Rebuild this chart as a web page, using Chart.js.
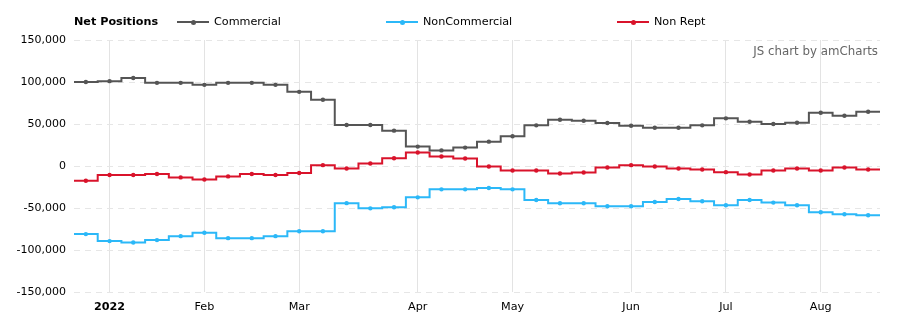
<!DOCTYPE html>
<html>
<head>
<meta charset="utf-8">
<script src="https://cdn.jsdelivr.net/npm/chart.js@4.4.1/dist/chart.umd.min.js"></script>
<style>
  html, body { margin: 0; padding: 0; background: #fff; }
  #wrap { position: relative; width: 897px; height: 326px; font-family: "DejaVu Sans", Verdana, sans-serif; }
  #chart { position: absolute; left: 0; top: 0; }
  .legend-title { position: absolute; left: 74px; top: 15px; font-size: 11.2px; font-weight: bold; color: #000; }
  .legend-item { position: absolute; top: 15px; font-size: 11.2px; color: #000; white-space: nowrap; }
  .legend-item .mark { position: absolute; left: -37px; top: 6px; width: 32px; height: 2px; }
  .legend-item .dot { position: absolute; left: 14px; top: -1.5px; width: 5px; height: 5px; border-radius: 50%; }
  .credit { position: absolute; right: 19px; top: 44px; font-size: 11.8px; color: #666; }
</style>
</head>
<body>
<div id="wrap">
  <canvas id="chart" width="897" height="326"></canvas>
  <div class="legend-title">Net Positions</div>
  <div id="legend"></div>
  <div class="credit">JS chart by amCharts</div>
</div>
<script>
const WEEKS = [
  "2021-12-28", "2022-01-04", "2022-01-11", "2022-01-18", "2022-01-25",
  "2022-02-01", "2022-02-08", "2022-02-15", "2022-02-22", "2022-03-01",
  "2022-03-08", "2022-03-15", "2022-03-22", "2022-03-29", "2022-04-05",
  "2022-04-12", "2022-04-19", "2022-04-26", "2022-05-03", "2022-05-10",
  "2022-05-17", "2022-05-24", "2022-05-31", "2022-06-07", "2022-06-14",
  "2022-06-21", "2022-06-28", "2022-07-05", "2022-07-12", "2022-07-19",
  "2022-07-26", "2022-08-02", "2022-08-09", "2022-08-16",
];

const COMMERCIAL = [
  100000, 101000, 104800, 99000, 99000, 96600, 99000, 99000, 96600, 88300,
  78800, 48800, 48800, 42100, 23100, 18600, 21900, 29000, 35400, 48400,
  55100, 53900, 51200, 48000, 45600, 45600, 48400, 56700, 52700, 50000,
  51500, 63400, 59800, 64600,
];

const NON_COMMERCIAL = [
  -81100, -89400, -91000, -88200, -83500, -79500, -85900, -85900, -83500, -77600,
  -77600, -44200, -50400, -49100, -37300, -27800, -27800, -26200, -27800, -40400,
  -44400, -44400, -48000, -48000, -42800, -39200, -42000, -46800, -40400, -43600,
  -46800, -55100, -57400, -58600,
];

const NON_REPT = [
  -17500, -10800, -10800, -9600, -13600, -16000, -12400, -9600, -10800, -8400,
  1000, -2900, 3000, 9300, 16000, 11300, 8900, -600, -5300, -5300,
  -8900, -7700, -1800, 1000, -600, -2900, -4100, -7300, -10100, -5300,
  -2900, -5300, -1800, -4100,
];

// label shown on the first report of each month
const MONTH_LABELS = {
  "2022-01-04": "2022",
  "2022-02-01": "Feb",
  "2022-03-01": "Mar",
  "2022-04-05": "Apr",
  "2022-05-03": "May",
  "2022-06-07": "Jun",
  "2022-07-05": "Jul",
  "2022-08-02": "Aug",
};

const SERIES = [
  { name: "Commercial", data: COMMERCIAL, color: "#555555", left: 214 },
  { name: "NonCommercial", data: NON_COMMERCIAL, color: "#2bb8f8", left: 423 },
  { name: "Non Rept", data: NON_REPT, color: "#d9132b", left: 654 },
];

function buildLegend() {
  const legend = document.getElementById("legend");
  SERIES.forEach((s) => {
    const item = document.createElement("div");
    item.className = "legend-item";
    item.style.left = `${s.left}px`;
    item.innerHTML = `<span class="mark" style="background:${s.color}"><span class="dot" style="background:${s.color}"></span></span>${s.name}`;
    legend.appendChild(item);
  });
}

// amCharts step lines run out to the plot edges; extend first/last step
const stepEdges = {
  id: "stepEdges",
  afterDatasetsDraw(chart) {
    const { ctx, chartArea } = chart;
    chart.data.datasets.forEach((ds, i) => {
      const pts = chart.getDatasetMeta(i).data;
      if (!pts.length) return;
      const first = pts[0];
      const last = pts[pts.length - 1];
      ctx.save();
      ctx.strokeStyle = ds.borderColor;
      ctx.lineWidth = ds.borderWidth;
      ctx.beginPath();
      ctx.moveTo(chartArea.left, first.y);
      ctx.lineTo(first.x, first.y);
      ctx.moveTo(last.x, last.y);
      ctx.lineTo(chartArea.right, last.y);
      ctx.stroke();
      ctx.restore();
    });
  },
};

function renderChart() {
  const ctx = document.getElementById("chart");
  new Chart(ctx, {
    type: "line",
    data: {
      labels: WEEKS,
      datasets: SERIES.map((s) => ({
        label: s.name,
        data: s.data,
        borderColor: s.color,
        backgroundColor: s.color,
        borderWidth: 2,
        stepped: "middle",
        pointRadius: 2.2,
        pointHoverRadius: 3,
        pointBorderWidth: 0,
        fill: false,
      })),
    },
    options: {
      responsive: false,
      animation: false,
      layout: { padding: { top: 40, right: 17, bottom: 0, left: 0 } },
      plugins: { legend: { display: false }, tooltip: { enabled: false } },
      scales: {
        x: {
          offset: true,
          grid: {
            offset: false,
            drawTicks: false,
            color: (c) => (MONTH_LABELS[WEEKS[c.index]] ? "#e3e3e3" : "rgba(0,0,0,0)"),
          },
          border: { display: false },
          ticks: {
            autoSkip: false,
            maxRotation: 0,
            padding: 8,
            color: "#000",
            font: (c) => ({
              family: "DejaVu Sans",
              size: 11.2,
              weight: MONTH_LABELS[WEEKS[c.index]] === "2022" ? "bold" : "normal",
            }),
            callback: (val, idx) => MONTH_LABELS[WEEKS[idx]] || "",
          },
          afterFit: (scale) => { scale.height = 34; },
        },
        y: {
          min: -150000,
          max: 150000,
          grid: { color: "#e6e6e6", drawTicks: false },
          border: { display: false, dash: [6, 5] },
          ticks: {
            stepSize: 50000,
            padding: 8,
            color: "#000",
            font: { family: "DejaVu Sans", size: 11 },
            callback: (v) => v.toLocaleString("en-US"),
          },
          afterFit: (scale) => { scale.width = 74; },
        },
      },
    },
    plugins: [stepEdges],
  });
}

buildLegend();
renderChart();
</script>
</body>
</html>
